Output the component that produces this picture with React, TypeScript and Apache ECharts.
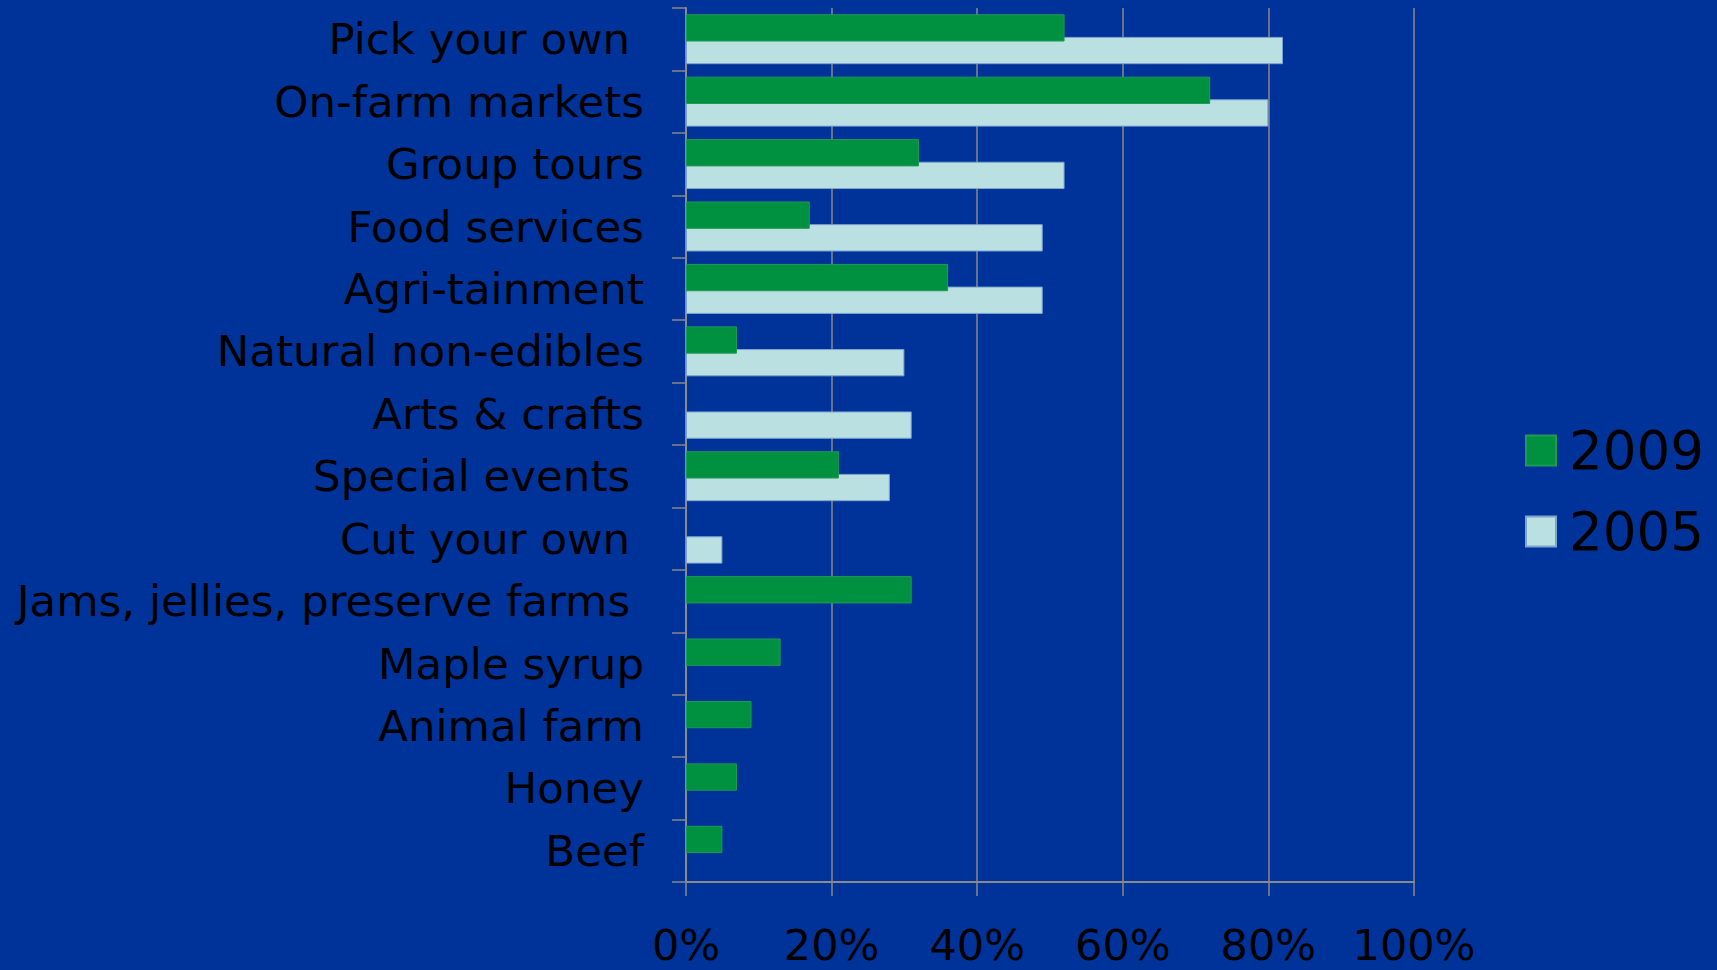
import React, { useEffect, useRef } from "react";
import * as echarts from "echarts";

const categories = [
  "Pick your own ",
  "On-farm markets",
  "Group tours",
  "Food services",
  "Agri-tainment",
  "Natural non-edibles",
  "Arts & crafts",
  "Special events ",
  "Cut your own ",
  "Jams, jellies, preserve farms ",
  "Maple syrup",
  "Animal farm",
  "Honey",
  "Beef",
];
const seriesNames = ["2009", "2005"];
const values2009 = [52, 72, 32, 17, 36, 7, null, 21, null, 31, 13, 9, 7, 5];
const values2005 = [82, 80, 52, 49, 49, 30, 31, 28, 5, null, null, null, null, null];
const xTicks = { min: 0, max: 100, interval: 20 };

const FONT = "DejaVu Sans";

export default function App() {
  const ref = useRef<HTMLDivElement>(null);
  useEffect(() => {
    if (!ref.current) return;
    const chart = echarts.init(ref.current, undefined, { renderer: "svg" });
    chart.setOption({
      animation: false,
      backgroundColor: "#003399",
      grid: { left: 686, right: 303, top: 8, bottom: 88, containLabel: false },
      legend: {
        orient: "vertical",
        left: 1520,
        top: 419,
        itemWidth: 30,
        itemHeight: 30,
        itemGap: 28,
        icon: "rect",
        data: seriesNames,
        textStyle: { fontFamily: FONT, fontSize: 53, color: "#000", padding: [0, 0, 0, 8] },
      },
      xAxis: {
        type: "value",
        min: xTicks.min,
        max: xTicks.max,
        interval: xTicks.interval,
        axisLine: { show: true, lineStyle: { color: "#8a8a8a", width: 2 } },
        axisTick: { show: true, length: 14, lineStyle: { color: "#8a8a8a", width: 1.5 } },
        splitLine: { show: true, lineStyle: { color: "#8a8a8a", width: 1.5 } },
        axisLabel: {
          formatter: "{value}%",
          fontFamily: FONT,
          fontSize: 43,
          color: "#000",
          margin: 41,
        },
      },
      yAxis: {
        type: "category",
        inverse: true,
        data: categories,
        axisLine: { show: true, lineStyle: { color: "#8a8a8a", width: 2 } },
        axisTick: { show: true, length: 14, lineStyle: { color: "#8a8a8a", width: 1.5 } },
        axisLabel: {
          fontFamily: FONT,
          fontSize: 43.5,
          color: "#000",
          margin: 42,
          formatter: (v: string) => v.replace(/ $/, "\u00A0"),
        },
      },
      series: [
        {
          name: seriesNames[0],
          type: "bar",
          data: values2009,
          z: 3,
          barCategoryGap: "20%",
          barGap: "-17%",
          itemStyle: { color: "#009140", borderColor: "#1f9a55", borderWidth: 1 },
        },
        {
          name: seriesNames[1],
          type: "bar",
          data: values2005,
          z: 2,
          barCategoryGap: "20%",
          barGap: "-17%",
          itemStyle: { color: "#bae0e2", borderColor: "#7ea5d0", borderWidth: 1 },
        },
      ],
    });
    return () => chart.dispose();
  }, []);
  return (
    <div
      ref={ref}
      style={{ position: "fixed", left: 0, top: 0, width: 1717, height: 970 }}
    />
  );
}
